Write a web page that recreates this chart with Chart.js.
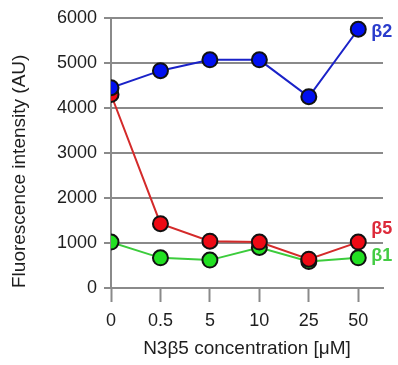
<!DOCTYPE html>
<html>
<head>
<meta charset="utf-8">
<script src="https://cdn.jsdelivr.net/npm/chart.js@4"></script>
<style>
  html, body { margin: 0; padding: 0; background: #fff; }
  #wrap { width: 398px; height: 365px; }
</style>
</head>
<body>
<div id="wrap"><canvas id="chart"></canvas></div>
<script>
// values
const concentrations = ['0', '0.5', '5', '10', '25', '50'];
const seriesNames = ['β2', 'β5', 'β1'];
const beta2 = [4450, 4830, 5070, 5070, 4250, 5750];
const beta5 = [4300, 1430, 1040, 1020, 640, 1020];
const beta1 = [1020, 670, 620, 900, 590, 670];
const yTicks = [0, 1000, 2000, 3000, 4000, 5000, 6000];

const gridGray = '#8a8a8a';
const font = "'Liberation Sans', Arial, sans-serif";
Chart.defaults.font.family = font;
Chart.defaults.color = '#1e1e1e';

function toPoints(values) {
    return values.map((v, i) => ({ x: i, y: v }));
}

function series(name, values, line, fill, labelColor, labelShift) {
    return {
        label: name,
        data: toPoints(values),
        borderColor: line,
        borderWidth: 2,
        pointBackgroundColor: fill,
        pointBorderColor: '#111',
        pointBorderWidth: 2,
        pointRadius: 7.5,
        labelColor: labelColor,
        labelShift: labelShift
    };
}

//It writes the series name next to the last point of each line.
const endLabels = {
    id: 'endLabels',
    afterDatasetsDraw(chart) {
        const ctx = chart.ctx;
        chart.data.datasets.forEach((ds, i) => {
            const meta = chart.getDatasetMeta(i);
            const pt = meta.data[meta.data.length - 1];
            ctx.save();
            ctx.font = 'bold 18px ' + font;
            ctx.fillStyle = ds.labelColor;
            ctx.textBaseline = 'middle';
            ctx.fillText(ds.label, pt.x + 13, pt.y + ds.labelShift);
            ctx.restore();
        });
    }
};

let ctx = document.getElementById('chart').getContext('2d');

window.chart = new Chart(ctx, {
    type: 'line',
    data: {
        datasets: [
            series(seriesNames[0], beta2, '#1a22c8', '#0010f0', '#2a3ccc', 3),
            series(seriesNames[1], beta5, '#d42a2a', '#ee0a14', '#dd2a3a', -13),
            series(seriesNames[2], beta1, '#3ccc3c', '#22e022', '#44cc44', -2)
        ]
    },
    options: {
        responsive: true,
        maintainAspectRatio: false,
        animation: false,
        layout: { padding: { top: 18, right: 15, left: 0, bottom: 0 } },
        plugins: { legend: { display: false }, tooltip: { enabled: false } },
        scales: {
            x: {
                type: 'linear',
                min: 0,
                max: 5.5,
                afterBuildTicks: (scale) => {
                    scale.ticks = concentrations.map((c, i) => ({ value: i }));
                },
                afterFit: (scale) => { scale.height = 77; },
                ticks: {
                    callback: (v) => concentrations[v],
                    font: { size: 18 },
                    padding: 8,
                    maxRotation: 0,
                    autoSkip: false
                },
                grid: {
                    drawOnChartArea: false,
                    drawTicks: true,
                    tickLength: 14,
                    tickWidth: 2,
                    color: gridGray
                },
                border: { display: true, color: gridGray, width: 2 },
                title: {
                    display: true,
                    text: 'N3β5 concentration [μM]',
                    font: { size: 19 },
                    padding: { top: 0, bottom: 5 }
                }
            },
            y: {
                min: 0,
                max: 6000,
                afterBuildTicks: (scale) => {
                    scale.ticks = yTicks.map(v => ({ value: v }));
                },
                afterFit: (scale) => { scale.width = 111; },
                ticks: {
                    callback: (v) => String(v),
                    font: { size: 18 },
                    padding: 7
                },
                grid: {
                    color: gridGray,
                    lineWidth: 2,
                    tickLength: 7,
                    tickWidth: 2
                },
                border: { display: true, color: gridGray, width: 2 },
                title: {
                    display: true,
                    text: 'Fluorescence intensity (AU)',
                    align: 'start',
                    font: { size: 19 },
                    padding: { top: 8, bottom: 2 }
                }
            }
        }
    },
    plugins: [endLabels]
});
</script>
</body>
</html>
